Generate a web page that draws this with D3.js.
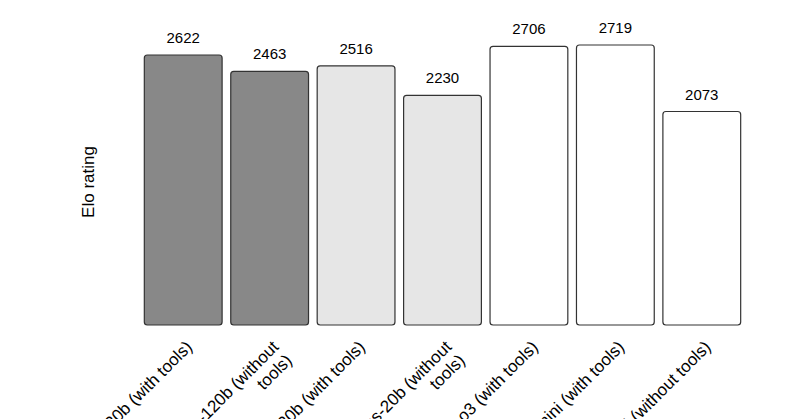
<!DOCTYPE html><html><head><script src="https://cdn.jsdelivr.net/npm/d3@7"></script>
<style>body{margin:0;background:#fff}text{font-family:"Liberation Sans",Arial,sans-serif}</style></head><body><svg id="c" width="800" height="419"></svg>
<script>
const categories=["gpt-oss-120b (with tools)","gpt-oss-120b (without tools)","gpt-oss-20b (with tools)","gpt-oss-20b (without tools)","o3 (with tools)","o4-mini (with tools)","o3-mini (without tools)"];
const labelLines=[["gpt-oss-120b (with tools)"],["gpt-oss-120b (without","tools)"],["gpt-oss-20b (with tools)"],["gpt-oss-20b (without","tools)"],["o3 (with tools)"],["o4-mini (with tools)"],["o3-mini (without tools)"]];
const values=[2622,2463,2516,2230,2706,2719,2073];
const fills=["#888888","#888888","#e6e6e6","#e6e6e6","#ffffff","#ffffff","#ffffff"];
const svg=d3.select("#c");
const x=d3.scaleBand().domain(categories).range([140,745]).paddingInner(0.1).paddingOuter(0.05);
const y=d3.scaleLinear().domain([0,2719]).range([325,45]);
svg.selectAll("rect").data(values).join("rect")
 .attr("x",(d,i)=>x(categories[i])).attr("width",x.bandwidth())
 .attr("y",d=>y(d)).attr("height",d=>y(0)-y(d)).attr("rx",3)
 .attr("fill",(d,i)=>fills[i]).attr("stroke","#333").attr("stroke-width",1.2);
svg.selectAll(".v").data(values).join("text").attr("class","v")
 .attr("x",(d,i)=>x(categories[i])+x.bandwidth()/2).attr("y",d=>y(d)-12)
 .attr("text-anchor","middle").attr("font-size",15).text(d=>d);
categories.forEach((c,i)=>{
 const cx=x(c)+x.bandwidth()/2+10, cy=348;
 const t=svg.append("text").attr("transform",`translate(${cx},${cy}) rotate(-45)`).attr("text-anchor","end").attr("font-size",17);
 labelLines[i].forEach((l,j)=>t.append("tspan").attr("x",0).attr("dy",j?19:0).text(l));
});
svg.append("text").attr("transform","translate(94,182) rotate(-90)").attr("text-anchor","middle").attr("font-size",17).text("Elo rating");
</script></body></html>
